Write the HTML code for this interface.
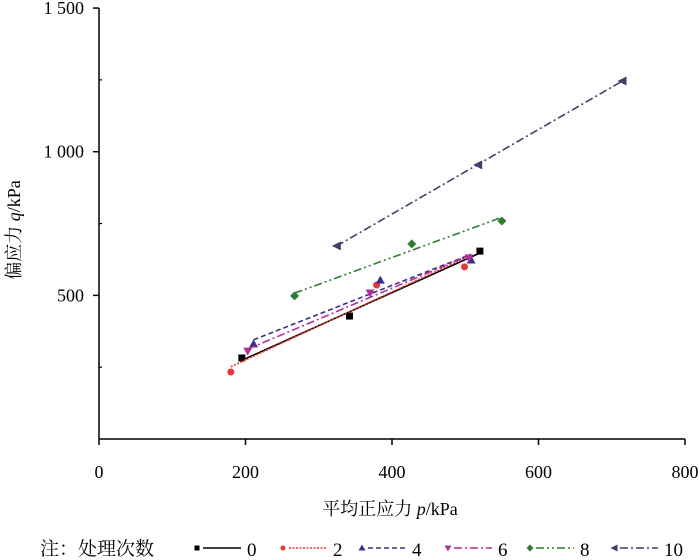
<!DOCTYPE html>
<html><head><meta charset="utf-8"><style>
body{margin:0;background:#fff;}
svg{display:block;font-family:"Liberation Serif","Noto Serif CJK SC",serif;}
</style></head><body>
<svg id="c" width="700" height="560"></svg>
<script>
const xTicks=[0,200,400,600,800];
const yTicks=[500,1000,1500];
const yMinorTicks=[250,750,1250];
const yTickLabels=["500","1 000","1 500"];
const seriesNames=["0","2","4","6","8","10"];
const p0=[195,342,520], q0=[282,428,654];
const p2=[180,379,499], q2=[233,536,599];
const p4=[211,384,508], q4=[331,553,623];
const p6=[203,370,505], q6=[306,508,630];
const p8=[267,427,550], q8=[498,679,759];
const p10=[324,517,714], q10=[672,954,1246];
const P=[p0,p2,p4,p6,p8,p10], Q=[q0,q2,q4,q6,q8,q10];
const colors=["#000","#e53935","#3a2f8f","#b0309a","#2e7d32","#4a3a6a"];
const dashes=["","2,1.5","5,3","8,3,2,3","8,3,2,3,2,3","8,3,2,3"];
const markers=["sq","ci","tu","td","di","tl"];
const NS="http://www.w3.org/2000/svg";
const svg=document.getElementById('c');
const X=v=>99+v*0.7325, Y=v=>439-v*0.2873;
function el(t,a,parent){const e=document.createElementNS(NS,t);for(const k in a)e.setAttribute(k,a[k]);(parent||svg).appendChild(e);return e;}
let ax=el('line',{x1:X(0),y1:Y(0),x2:X(800),y2:Y(0),stroke:'#000','stroke-width':1.5});

let ay=el('line',{x1:X(0),y1:Y(0),x2:X(0),y2:Y(1500),stroke:'#000','stroke-width':1.5});

xTicks.forEach(v=>{
 el('line',{x1:X(v),y1:Y(0),x2:X(v),y2:Y(0)+6,stroke:'#000','stroke-width':1.5});
 let t=el('text',{x:X(v),y:478,'text-anchor':'middle','font-size':18});t.textContent=v;
 
});
yTicks.forEach((v,i)=>{
 el('line',{x1:X(0)-6,y1:Y(v),x2:X(0),y2:Y(v),stroke:'#000','stroke-width':1.5});
 let t=el('text',{x:84,y:Y(v)+6,'text-anchor':'end','font-size':18});t.textContent=yTickLabels[i];
 
});
yMinorTicks.forEach(v=>{
 el('line',{x1:X(0),y1:Y(v),x2:X(0)+3,y2:Y(v),stroke:'#000','stroke-width':1.2});
});
let xt=el('text',{x:390,y:515,'text-anchor':'middle','font-size':18});
xt.innerHTML='平均正应力 <tspan font-style="italic">p</tspan>/kPa';

let yt=el('text',{x:0,y:0,'text-anchor':'middle','font-size':18,transform:'translate(20,230) rotate(-90)'});
yt.innerHTML='偏应力 <tspan font-style="italic">q</tspan>/kPa';

function marker(type,x,y,c,s,g){
 if(type=='sq')return el('rect',{x:x-s,y:y-s,width:2*s,height:2*s,fill:c},g);
 if(type=='ci')return el('circle',{cx:x,cy:y,r:s,fill:c},g);
 if(type=='tu')return el('polygon',{points:`${x},${y-s-1} ${x-s-1},${y+s} ${x+s+1},${y+s}`,fill:c},g);
 if(type=='td')return el('polygon',{points:`${x},${y+s+1} ${x-s-1},${y-s} ${x+s+1},${y-s}`,fill:c},g);
 if(type=='di')return el('polygon',{points:`${x},${y-s-1} ${x+s+1},${y} ${x},${y+s+1} ${x-s-1},${y}`,fill:c},g);
 return el('polygon',{points:`${x-s-1},${y} ${x+s+1},${y-s-1} ${x+s+1},${y+s+1}`,fill:c},g);
}
P.forEach((ps,i)=>{
 const qs=Q[i],n=ps.length;
 const mx=ps.reduce((a,b)=>a+b)/n,my=qs.reduce((a,b)=>a+b)/n;
 let sxy=0,sxx=0;ps.forEach((p,j)=>{sxy+=(p-mx)*(qs[j]-my);sxx+=(p-mx)*(p-mx);});
 const b=sxy/sxx,a=my-b*mx,x1=Math.min(...ps),x2=Math.max(...ps);
 const g=el('g',{});
 
 const ln=el('line',{x1:X(x1),y1:Y(a+b*x1),x2:X(x2),y2:Y(a+b*x2),stroke:colors[i],'stroke-width':1.6,'stroke-dasharray':dashes[i]},g);
 
 ps.forEach((p,j)=>{const m=marker(markers[i],X(p),Y(qs[j]),colors[i],3.5,g);
  });
});
let lt=el('text',{x:40,y:555,'font-size':19});lt.textContent='注：处理次数';

const lx=[197,283,362,448,530,614];
seriesNames.forEach((s,i)=>{
 const g=el('g',{});
 
 marker(markers[i],lx[i],548,colors[i],2.5,g);
 el('line',{x1:lx[i]+6,y1:548,x2:lx[i]+44,y2:548,stroke:colors[i],'stroke-width':1.5,'stroke-dasharray':dashes[i]},g);
 const t=el('text',{x:lx[i]+50,y:556,'font-size':19},g);t.textContent=s;
});
</script>
</body></html>
